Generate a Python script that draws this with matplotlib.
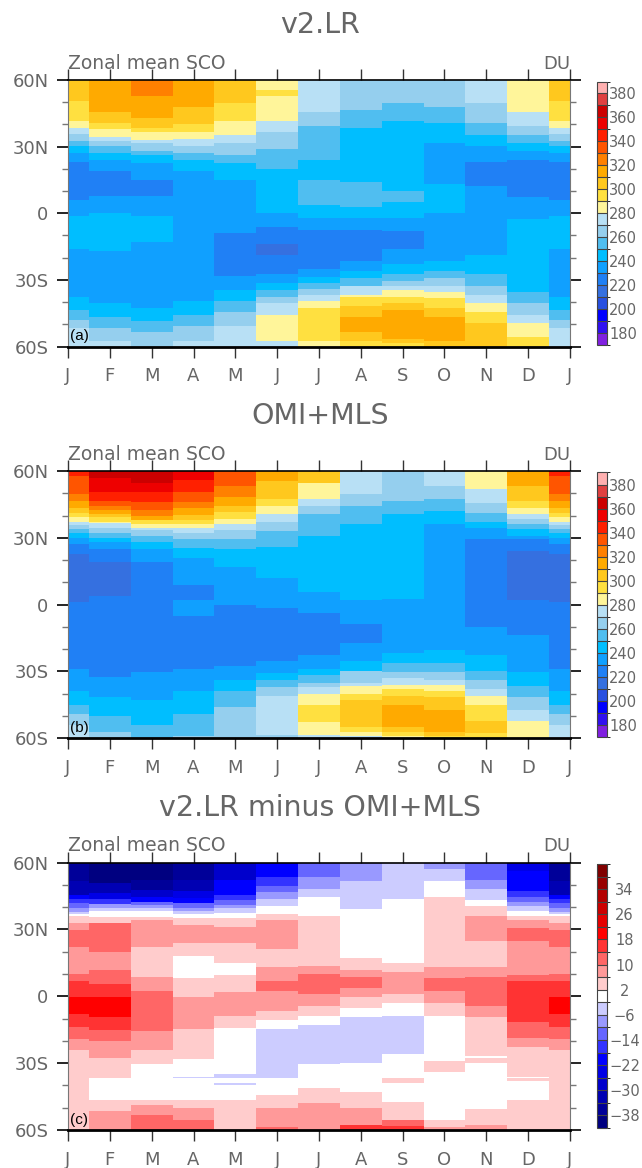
import matplotlib
matplotlib.use('Agg')
import matplotlib.pyplot as plt
from matplotlib.colors import ListedColormap, BoundaryNorm
from matplotlib.cm import ScalarMappable
import numpy as np

months = ['J', 'F', 'M', 'A', 'M', 'J', 'J', 'A', 'S', 'O', 'N', 'D', 'J']
lat_labels = ['60S', '30S', '0', '30N', '60N']

# every month: zonal mean SCO bands from 60N down to 60S, breaks are the latitudes between bands
# panel (a) v2.LR
a_jan_lat = [50.5, 41.5, 38.2, 35.5, 32.7, 30.5, 27.3, 23, 6, -1.2, -16.2, -37.5, -43.5, -48, -51.7]
a_jan_val = [305, 295, 285, 275, 265, 255, 245, 235, 225, 235, 245, 235, 245, 255, 265, 275]
a_feb_lat = [45.5, 40.5, 37.8, 34.2, 32.7, 30.5, 27.3, 24, 18.8, 7.8, 0, -17.2, -40.5, -46.5, -51.7, -57.7]
a_feb_val = [315, 305, 295, 285, 275, 265, 255, 245, 235, 225, 235, 245, 235, 245, 255, 265, 275]
a_mar_lat = [52.8, 42.8, 38.2, 36.5, 33, 31.5, 28, 26.2, 22.5, 15, 7.8, -1.2, -12.9, -42.8, -48.5, -53.4]
a_mar_val = [325, 315, 305, 295, 285, 275, 265, 255, 245, 235, 225, 235, 245, 235, 245, 255, 265]
a_apr_lat = [47.7, 40.2, 36.5, 33.3, 30.5, 27.3, 24, 18.8, -39.5, -45.8, -50.7, -57.7]
a_apr_val = [315, 305, 295, 285, 275, 265, 255, 245, 235, 245, 255, 265, 275]
a_may_lat = [49.5, 41.5, 35.4, 31.5, 26.2, 22.5, 15, -9, -28.2, -34.5, -39.5, -44.4, -50.7]
a_may_val = [305, 295, 285, 275, 265, 255, 245, 235, 225, 235, 245, 255, 265, 275]
a_jun_lat = [55.5, 52.8, 41.5, 36.5, 29, 20, 0, -6.3, -14, -19, -27.5, -31.5, -34.5, -37.8, -40.5, -45.8, -57.7]
a_jun_val = [285, 295, 285, 275, 265, 255, 245, 235, 225, 215, 225, 235, 245, 255, 265, 275, 285, 275]
a_jul_lat = [45.5, 39.3, 24, 15, 3.8, -2.2, -7.5, -25.2, -28.5, -31.5, -34.2, -36.8, -39.5, -42.8, -57.7]
a_jul_val = [275, 265, 255, 245, 255, 245, 235, 225, 235, 245, 255, 265, 275, 285, 295, 285]
a_aug_lat = [46.5, 38.2, 14, 2.7, -2.2, -7.5, -21.3, -26.2, -29, -32.7, -36.8, -37.8, -41.7, -46.5, -53.4, -57.7]
a_aug_val = [265, 255, 245, 255, 245, 235, 225, 235, 245, 255, 275, 285, 295, 305, 315, 305, 295]
a_sep_lat = [49.5, 41.5, 10, 5, -2.2, -8, -16.2, -23, -27.5, -30.3, -32.7, -34.5, -37.8, -40.5, -43.5, -56.7, -58.5]
a_sep_val = [265, 255, 245, 255, 245, 235, 225, 235, 245, 255, 265, 275, 285, 295, 305, 315, 305, 295]
a_oct_lat = [47.7, 40.5, 31.5, 13, 0, -21.3, -26.2, -29, -32.7, -35.5, -38.2, -42.8, -46.5, -57.7]
a_oct_val = [265, 255, 245, 235, 245, 235, 245, 255, 265, 275, 285, 295, 305, 315, 305]
a_nov_lat = [49.5, 40.5, 35.4, 30.5, 23, 12.3, -19, -27.5, -32.7, -36.8, -40.5, -44.4, -49.5]
a_nov_val = [275, 265, 255, 245, 235, 225, 235, 245, 255, 265, 275, 285, 295, 305]
a_dec_lat = [45.5, 39.3, 35.4, 31.5, 28, 24, 7.2, -2.7, -35.5, -40.5, -45.8, -49.5, -55.5]
a_dec_val = [285, 275, 265, 255, 245, 235, 225, 235, 245, 255, 265, 275, 285, 295]

# panel (b) OMI+MLS
b_jan_lat = [57.8, 49.5, 46.5, 43.5, 41.2, 39.4, 37.2, 35.7, 33.9, 32, 30, 27, 22.9, 1, -28.8, -39, -45.3, -49, -54]
b_jan_val = [345, 335, 325, 315, 305, 295, 285, 275, 265, 255, 245, 235, 225, 215, 225, 235, 245, 255, 265, 275]
b_feb_lat = [56.7, 50.7, 46.5, 44.4, 42.5, 40.7, 39.5, 37.2, 36.5, 34.2, 32, 29.7, 27.9, 24.8, 19.2, 3.8, -32.5, -41.5, -50.1, -57.3]
b_feb_val = [365, 355, 345, 335, 325, 315, 305, 295, 285, 275, 265, 255, 245, 235, 225, 215, 225, 235, 245, 255, 265]
b_mar_lat = [54.5, 50.7, 46.2, 42.5, 39.8, 38, 36.2, 34.5, 33.5, 30.9, 27.9, 24.8, 19.2, -30.3, -42.8, -54]
b_mar_val = [365, 355, 345, 335, 325, 315, 295, 285, 275, 265, 255, 245, 235, 225, 235, 245, 255]
b_apr_lat = [56, 50.7, 46.2, 43.2, 40.2, 38, 36, 34.5, 32, 29.4, 25.6, 21, 8.7, 1.9, -5.2, -28.8, -39, -49, -59.2]
b_apr_val = [355, 345, 335, 325, 315, 305, 295, 285, 275, 265, 255, 245, 235, 225, 235, 225, 235, 245, 255, 265]
b_may_lat = [53.2, 48.4, 44.4, 41.4, 38.4, 36, 33.5, 29.4, 24.9, 17, -0.3, -27.8, -34, -39, -46]
b_may_val = [335, 325, 315, 305, 295, 285, 275, 265, 255, 245, 235, 225, 235, 245, 255, 265]
b_jun_lat = [55.5, 47.2, 44.4, 40.5, 37.2, 33.2, 26, 11.7, -1.5, -25.5, -30.6, -34, -37, -41.2, -58.5]
b_jun_val = [315, 305, 295, 285, 275, 265, 255, 245, 235, 225, 235, 245, 255, 265, 275, 265]
b_jul_lat = [54.8, 47.2, 44.2, 40.5, 30.9, 5.7, -4, -22.8, -28.8, -31.8, -35.1, -37, -40, -45.3, -52.8, -58.5]
b_jul_val = [305, 285, 275, 265, 255, 245, 235, 225, 235, 245, 255, 265, 275, 285, 295, 285, 275]
b_aug_lat = [49.5, 44.2, 36, 1.9, -8.8, -17.5, -25.5, -30, -35.5, -36.8, -40, -42.8, -55, -57.3, -59.1]
b_aug_val = [275, 265, 255, 245, 235, 225, 235, 245, 265, 275, 285, 295, 305, 295, 285, 275]
b_sep_lat = [46.6, 40.6, 2.4, -21.6, -26.5, -30.5, -32.9, -36.3, -37.8, -41.2, -45, -55, -57.3, -59.1]
b_sep_val = [265, 255, 245, 235, 245, 255, 265, 275, 285, 295, 305, 315, 305, 295, 285]
b_oct_lat = [53.2, 47.2, 42.2, 36, -20.5, -26.5, -30.5, -34, -36.3, -39, -41.5, -47.2, -57.3, -59.1]
b_oct_val = [275, 265, 255, 245, 235, 245, 255, 265, 275, 285, 295, 305, 315, 305, 295]
b_nov_lat = [51.8, 45.4, 41, 37.2, 34.5, 29.4, -10, -22.8, -30, -34, -37.8, -41.2, -45, -52.5, -57.6]
b_nov_val = [285, 275, 265, 255, 245, 235, 225, 235, 245, 255, 265, 275, 285, 295, 305, 295]
b_dec_lat = [53.2, 46.5, 43.2, 40.6, 38.4, 36, 33.9, 30.9, 29.4, 24.2, 1.9, -13.8, -30.3, -36.8, -41.5, -47.5, -52.4]
b_dec_val = [315, 305, 295, 285, 275, 265, 255, 245, 235, 225, 215, 225, 235, 245, 255, 265, 275, 285]

# panel (c) difference
c_jan_lat = [51.5, 45.5, 43.5, 41.7, 39.4, 37.9, 36.9, 36, 33, 29.7, 22.2, 9.8, 6.8, -0.3, -7.8, -13.8, -19, -24]
c_jan_val = [-36, -32, -20, -16, -12, -8, -4, 0, 4, 8, 12, 8, 12, 16, 20, 16, 12, 8, 4]
c_feb_lat = [50.7, 46.2, 43.5, 41.2, 39.4, 38.2, 35.4, 33, 20, 12, 5.7, -0.3, -9.3, -15.3, -20.1, -27.8, -36.8, -46.5, -51.3]
c_feb_val = [-40, -32, -24, -16, -8, -4, 0, 4, 12, 8, 12, 16, 20, 16, 12, 8, 4, 0, 4, 8]
c_mar_lat = [52.2, 47.7, 44.4, 42.4, 41, 39.4, 38.2, 35.7, 34.2, 22.2, 8.7, 2.4, -15.6, -24, -30.6, -46.5, -49, -53.1]
c_mar_val = [-40, -36, -28, -20, -12, -8, -4, 0, 4, 8, 4, 8, 12, 8, 4, 0, 4, 8, 12]
c_apr_lat = [52.2, 47, 43.9, 41.7, 39.4, 38.2, 36.9, 35.2, 32, 24.1, 18, 8, -0.3, -14.5, -28, -36, -36.5, -46.5, -50.2, -55.3]
c_apr_val = [-36, -32, -24, -20, -12, -8, -4, 0, 4, 8, 4, 0, 4, 8, 4, 0, -4, 0, 4, 8, 12]
c_may_lat = [52.2, 45.5, 43.2, 41, 39.4, 37.2, 35.2, 30.9, 24.1, 14.7, 9.5, 1.7, -9, -14.1, -35.1, -36.6, -39, -40, -46.5]
c_may_val = [-28, -20, -16, -12, -8, -4, 0, 4, 8, 4, 0, 4, 8, 4, 0, -4, 0, -4, 0, 4]
c_jun_lat = [53.7, 49.5, 46.7, 43.5, 40.6, 36.9, 34.2, 21, 13.2, 6.9, 2.4, -6.8, -10.5, -14.6, -36.6, -44.3, -50.2, -58.5]
c_jun_val = [-20, -16, -12, -8, -4, 0, 4, 8, 4, 8, 12, 8, 4, 0, -4, 0, 4, 8, 12]
c_jul_lat = [53.4, 48.2, 44.4, 36, 13.5, 9.8, 0.9, -4.5, -9, -12.8, -30.6, -41.2, -48]
c_jul_val = [-12, -8, -4, 0, 4, 8, 12, 8, 4, 0, -4, 0, 4, 8]
c_aug_lat = [51.8, 39.2, 17, 12, 8.7, 3.8, -0.3, -5.2, -9.3, -30, -43, -50.2, -57.8]
c_aug_val = [-8, -4, 0, 4, 8, 12, 8, 4, 0, -4, 0, 4, 8, 16]
c_sep_lat = [43.5, 14.7, 11, 0.9, -3, -9, -25.8, -36.8, -39, -47.5, -55.3, -58.4]
c_sep_val = [-4, 0, 4, 8, 4, 0, -4, 0, 4, 0, 4, 12, 16]
c_oct_lat = [57, 51.8, 44.4, 12.9, 8, 2.4, -3, -9, -29.1, -34, -55.5, -58.8]
c_oct_val = [-8, -4, 0, 4, 8, 12, 8, 4, 0, 4, 0, 4, 8]
c_nov_lat = [52.2, 48.2, 43.2, 40.5, 36, 24.8, 12.9, 8.7, -4.5, -9.3, -26.6, -27.8, -30, -50.6, -57.6]
c_nov_val = [-12, -8, -4, 0, 4, 8, 4, 8, 12, 8, 4, 0, 4, 0, 4, 8]
c_dec_lat = [56, 47, 44.4, 42.4, 40.5, 38.2, 36.2, 34.2, 30.8, 24.8, 9.5, 6.9, -11.6, -18.8, -22.8, -36, -36.6, -37.8, -46.5]
c_dec_val = [-24, -20, -16, -12, -8, -4, 0, 4, 8, 12, 8, 12, 16, 12, 8, 4, 0, 4, 0, 4]

sco_colors = ['#8020E0', '#3010F0', '#0000FF', '#2850E0', '#3570E0', '#2080F5', '#10A0FF', '#00BEFF',
              '#50BEF0', '#95CFEE', '#B8E0F5', '#FFF59A', '#FFE040', '#FFC81E', '#FFAA00', '#FF8000',
              '#FF5500', '#FF2000', '#EE0000', '#CC0000', '#E04040', '#FFB0B0']
diff_colors = ['#000080', '#000099', '#0000B3', '#0000CC', '#0000E6', '#0000FF', '#3333FF', '#6666FF',
               '#9999FF', '#CCCCFF', '#FFFFFF', '#FFCCCC', '#FF9999', '#FF6666', '#FF3333', '#FF0000',
               '#E60000', '#CC0000', '#B30000', '#990000', '#800000']
sco_levels = np.arange(170, 400, 10)
diff_levels = np.arange(-42, 46, 4)
sco_ticks = np.arange(180, 400, 20)
diff_ticks = np.arange(-38, 42, 8)

W, H = 642, 1168
GRAY = '#666666'
plt.rcParams['font.family'] = ['DejaVu Sans']


def ax_rect(x0, y0, x1, y1):
    return [x0 / W, 1 - y1 / H, (x1 - x0) / W, (y1 - y0) / H]


def draw_panel(top, bottom, cbar_top, cbar_bottom, title, tag, cols, colors, levels, ticks):
    cmap = ListedColormap(colors)
    norm = BoundaryNorm(levels, cmap.N)
    ax = fig.add_axes(ax_rect(68, top, 570, bottom))
    x_edges = [0] + [m + 0.5 for m in range(12)] + [12]
    for i, (lats, vals) in enumerate(cols):
        y_edges = [60] + lats + [-60]
        ax.pcolormesh(x_edges[i:i + 2], y_edges, np.array(vals)[:, None], cmap=cmap, norm=norm,
                      shading='flat', antialiased=False)
    ax.set_xlim(0, 12)
    ax.set_ylim(-60, 60)
    ax.set_xticks(range(13))
    ax.set_xticklabels(months, fontsize=13, color=GRAY)
    ax.set_yticks([-60, -30, 0, 30, 60])
    ax.set_yticklabels(lat_labels, fontsize=13, color=GRAY)
    ax.set_yticks(np.arange(-50, 60, 10), minor=True)
    ax.tick_params(axis='x', direction='out', top=True, length=8, width=1, color='#333333', pad=7)
    ax.tick_params(axis='y', which='major', direction='out', right=True, length=8, width=1.2, color='black', pad=6)
    ax.tick_params(axis='y', which='minor', direction='out', right=True, length=4, width=1, color='#777777')
    ax.spines['left'].set_color('#777777')
    ax.spines['right'].set_color('#777777')
    ax.spines['top'].set_linewidth(1.2)
    ax.spines['bottom'].set_linewidth(2)

    fig.text(320 / W, 1 - (top - 55) / H, title, fontsize=20.5, color=GRAY, ha='center', va='center')
    ax.text(0, 1.043, 'Zonal mean SCO', transform=ax.transAxes, fontsize=13.5, color=GRAY, ha='left', va='baseline')
    ax.text(1, 1.043, 'DU', transform=ax.transAxes, fontsize=13, color=GRAY, ha='right', va='baseline')
    ax.text(0.004, 0.012, tag, transform=ax.transAxes, fontsize=11, color='black', ha='left', va='bottom',
            family='Liberation Sans')

    cax = fig.add_axes(ax_rect(596.5, cbar_top, 606.5, cbar_bottom))
    cb = fig.colorbar(ScalarMappable(norm=norm, cmap=cmap), cax=cax, ticks=ticks, drawedges=True, spacing='uniform')
    cb.dividers.set_color('#444444')
    cb.dividers.set_linewidth(0.8)
    cb.outline.set_edgecolor('#444444')
    cb.outline.set_linewidth(0.8)
    cax.tick_params(length=0, pad=13 if levels[0] < 0 else 2)
    cax.set_yticklabels([str(t).replace('-', '\u2212') for t in ticks], fontsize=10.5, color=GRAY)
    if levels[0] < 0:
        for lab in cax.get_yticklabels():
            lab.set_horizontalalignment('center')


fig = plt.figure(figsize=(W / 100, H / 100), dpi=100)

cols_a = [(a_jan_lat, a_jan_val), (a_feb_lat, a_feb_val), (a_mar_lat, a_mar_val), (a_apr_lat, a_apr_val),
          (a_may_lat, a_may_val), (a_jun_lat, a_jun_val), (a_jul_lat, a_jul_val), (a_aug_lat, a_aug_val),
          (a_sep_lat, a_sep_val), (a_oct_lat, a_oct_val), (a_nov_lat, a_nov_val), (a_dec_lat, a_dec_val),
          (a_jan_lat, a_jan_val)]
cols_b = [(b_jan_lat, b_jan_val), (b_feb_lat, b_feb_val), (b_mar_lat, b_mar_val), (b_apr_lat, b_apr_val),
          (b_may_lat, b_may_val), (b_jun_lat, b_jun_val), (b_jul_lat, b_jul_val), (b_aug_lat, b_aug_val),
          (b_sep_lat, b_sep_val), (b_oct_lat, b_oct_val), (b_nov_lat, b_nov_val), (b_dec_lat, b_dec_val),
          (b_jan_lat, b_jan_val)]
cols_c = [(c_jan_lat, c_jan_val), (c_feb_lat, c_feb_val), (c_mar_lat, c_mar_val), (c_apr_lat, c_apr_val),
          (c_may_lat, c_may_val), (c_jun_lat, c_jun_val), (c_jul_lat, c_jul_val), (c_aug_lat, c_aug_val),
          (c_sep_lat, c_sep_val), (c_oct_lat, c_oct_val), (c_nov_lat, c_nov_val), (c_dec_lat, c_dec_val),
          (c_jan_lat, c_jan_val)]

draw_panel(80, 346.5, 81.5, 345, 'v2.LR', '(a)', cols_a, sco_colors, sco_levels, sco_ticks)
draw_panel(471, 738, 472.5, 737, 'OMI+MLS', '(b)', cols_b, sco_colors, sco_levels, sco_ticks)
draw_panel(862.5, 1130, 864, 1128, 'v2.LR minus OMI+MLS', '(c)', cols_c, diff_colors, diff_levels, diff_ticks)

plt.savefig('out.png', dpi=100)
plt.close()
